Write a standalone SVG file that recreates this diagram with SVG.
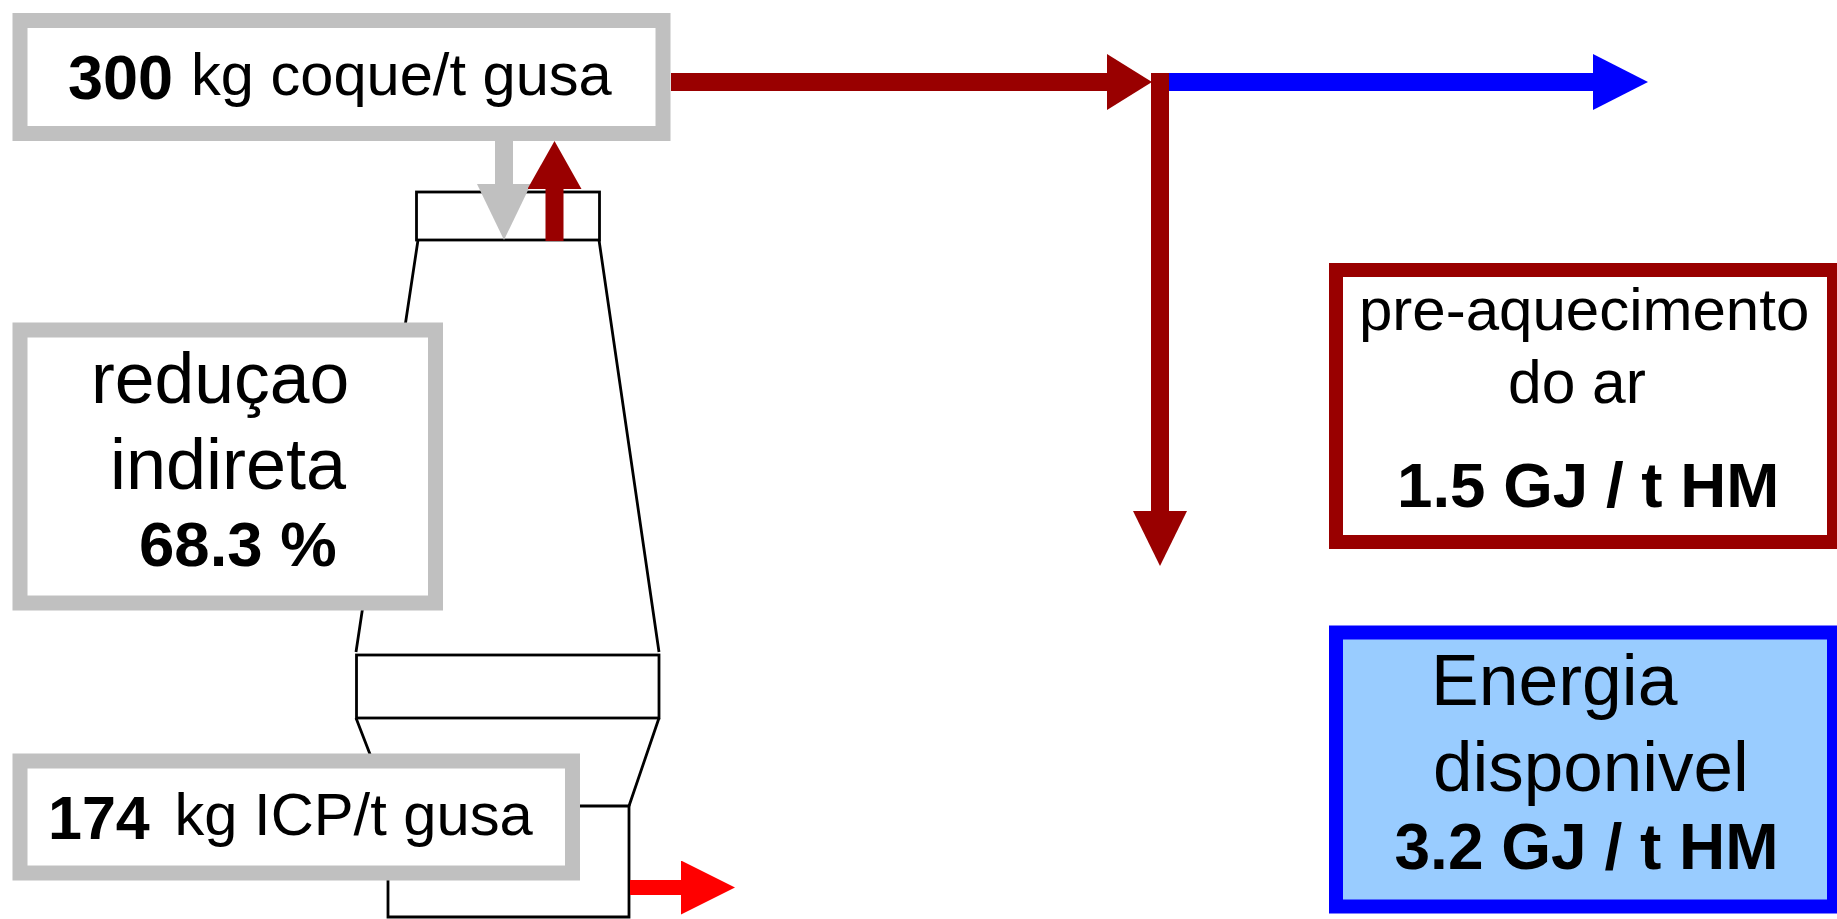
<svg xmlns="http://www.w3.org/2000/svg" width="1837" height="919" viewBox="0 0 1837 919">
<style>
text{font-family:"Liberation Sans",Arial,sans-serif;fill:#000}
.b{font-weight:700}
.f{fill:#fff;stroke:#000;stroke-width:2.8}
.l{fill:none;stroke:#000;stroke-width:2.8}
.gbox{fill:#fff;stroke:#c0c0c0;stroke-width:15}
.c{fill:none}
</style>
<defs>
<marker id="hR" markerUnits="userSpaceOnUse" markerWidth="45" markerHeight="56" refX="0" refY="28" viewBox="0 0 45 56" orient="auto"><path d="M0 0L45 28L0 56z" fill="#990000"/></marker>
<marker id="vR" markerUnits="userSpaceOnUse" markerWidth="55" markerHeight="54" refX="0" refY="27" viewBox="0 0 55 54" orient="auto"><path d="M0 0L55 27L0 54z" fill="#990000"/></marker>
<marker id="uR" markerUnits="userSpaceOnUse" markerWidth="48" markerHeight="54" refX="0" refY="27" viewBox="0 0 48 54" orient="auto"><path d="M0 0L48 27L0 54z" fill="#990000"/></marker>
<marker id="hB" markerUnits="userSpaceOnUse" markerWidth="55" markerHeight="56" refX="0" refY="28" viewBox="0 0 55 56" orient="auto"><path d="M0 0L55 28L0 56z" fill="#0000ff"/></marker>
<marker id="dG" markerUnits="userSpaceOnUse" markerWidth="56" markerHeight="54" refX="0" refY="27" viewBox="0 0 56 54" orient="auto"><path d="M0 0L56 27L0 54z" fill="#c0c0c0"/></marker>
<marker id="hF" markerUnits="userSpaceOnUse" markerWidth="54" markerHeight="54" refX="0" refY="27" viewBox="0 0 54 54" orient="auto"><path d="M0 0L54 27L0 54z" fill="#ff0000"/></marker>
</defs>
<rect width="1837" height="919" fill="#fff"/>
<g id="furnace">
<rect class="f" x="416.500" y="192" width="183" height="48"/>
<path class="l" d="M418 240L356 652M599 240L659 652"/>
<rect class="f" x="356.500" y="655" width="302.500" height="63"/>
<path class="l" d="M356 718L390 806M659 718L629 806"/>
<path class="l" d="M388 806H629V917H388Z"/>
</g>
<g id="connectors">
<line class="c" x1="504" y1="141" x2="504" y2="184" stroke="#c0c0c0" stroke-width="18" marker-end="url(#dG)"/>
<line class="c" x1="554.500" y1="241" x2="554.500" y2="189" stroke="#990000" stroke-width="18" marker-end="url(#uR)"/>
<line class="c" x1="671" y1="82" x2="1107" y2="82" stroke="#990000" stroke-width="18" marker-end="url(#hR)"/>
<line class="c" x1="1168" y1="82" x2="1593" y2="82" stroke="#0000ff" stroke-width="18" marker-end="url(#hB)"/>
<line class="c" x1="1160" y1="73" x2="1160" y2="511" stroke="#990000" stroke-width="18" marker-end="url(#vR)"/>
<line class="c" x1="630" y1="887.500" x2="681" y2="887.500" stroke="#ff0000" stroke-width="15" marker-end="url(#hF)"/>
</g>
<g id="node-coque">
<rect class="gbox" x="20" y="20.500" width="643" height="113"/>
<text class="b" x="68" y="99" font-size="63">300</text>
<text x="191" y="95" font-size="59.600">kg coque/t gusa</text>
</g>
<g id="node-reducao">
<rect class="gbox" x="20" y="330" width="415.500" height="273"/>
<text x="91" y="403" font-size="71.500">reduçao</text>
<text x="110" y="489" font-size="72">indireta</text>
<text class="b" x="139" y="566" font-size="63.500">68.3 %</text>
</g>
<g id="node-icp">
<rect class="gbox" x="20" y="761" width="552.500" height="112"/>
<text class="b" x="48" y="839" font-size="61">174</text>
<text x="174.500" y="835" font-size="59.700">kg ICP/t gusa</text>
</g>
<g id="node-preaquecimento">
<rect x="1336" y="270" width="498" height="272" fill="#fff" stroke="#990000" stroke-width="14"/>
<text x="1359" y="330" font-size="60">pre-aquecimento</text>
<text x="1508" y="402.500" font-size="60.500">do ar</text>
<text class="b" x="1397" y="507" font-size="63.700">1.5 GJ / t HM</text>
</g>
<g id="node-energia">
<rect x="1336" y="632.500" width="498" height="274" fill="#99ccff" stroke="#0000ff" stroke-width="14"/>
<text x="1431" y="705" font-size="71.500">Energia</text>
<text x="1433" y="791" font-size="71">disponivel</text>
<text class="b" x="1394.500" y="869" font-size="64">3.2 GJ / t HM</text>
</g>
</svg>
